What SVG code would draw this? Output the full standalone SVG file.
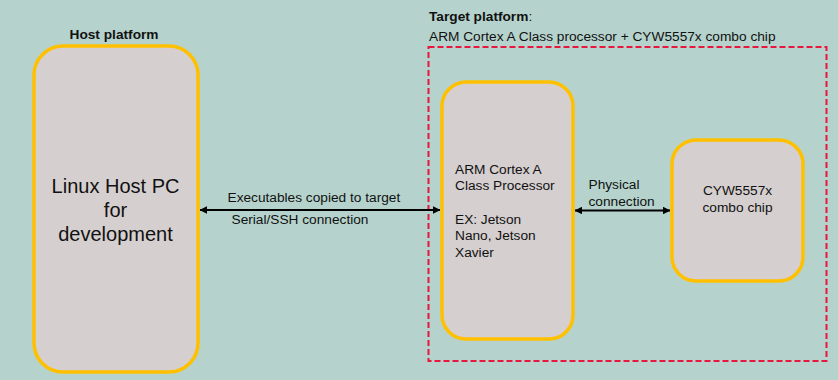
<svg xmlns="http://www.w3.org/2000/svg" width="838" height="380" viewBox="0 0 838 380">
  <style>
    text { font-family: "Liberation Sans", Arial, sans-serif; fill: #111; }
    .title { font-size: 13.7px; font-weight: bold; }
    .lbl { font-size: 13.7px; }
    .big { font-size: 20px; }
    .box { fill: #d5cfcf; stroke: #ffc000; stroke-width: 3.5; }
    .conn { stroke: #000; stroke-width: 1.8; fill: none; marker-start: url(#head); marker-end: url(#head); }
  </style>
  <defs>
    <marker id="head" viewBox="0 0 8 8" refX="7.5" refY="4" markerWidth="4.2" markerHeight="4.2" orient="auto-start-reverse" markerUnits="strokeWidth">
      <path d="M0,0 L8,4 L0,8 Z" fill="#000"/>
    </marker>
  </defs>

  <rect width="838" height="380" fill="#b5d3cc"/>

  <!-- Headings -->
  <text class="title" x="114" y="38.5" text-anchor="middle">Host platform</text>
  <text class="title" x="429" y="20.5">Target platform<tspan font-weight="normal">:</tspan></text>
  <text class="lbl" x="429" y="40.5">ARM Cortex A Class processor + CYW5557x combo chip</text>

  <!-- Target platform boundary -->
  <rect id="target-boundary" x="428.5" y="47" width="398" height="314" fill="none" stroke="#e8173e" stroke-width="2" stroke-dasharray="6,3"/>

  <!-- Host PC -->
  <g id="host-pc">
    <rect class="box" x="34" y="46" width="164" height="326" rx="29"/>
    <text class="big" text-anchor="middle" x="115.5" y="193">Linux Host PC</text>
    <text class="big" text-anchor="middle" x="115.5" y="217">for</text>
    <text class="big" text-anchor="middle" x="115.5" y="241">development</text>
  </g>

  <!-- ARM processor -->
  <g id="arm-processor">
    <rect class="box" x="442" y="82" width="131" height="257" rx="24"/>
    <text class="lbl" x="455" y="173.5">ARM Cortex A</text>
    <text class="lbl" x="455" y="190">Class Processor</text>
    <text class="lbl" x="455" y="223.5">EX: Jetson</text>
    <text class="lbl" x="455" y="240">Nano, Jetson</text>
    <text class="lbl" x="455" y="256.5">Xavier</text>
  </g>

  <!-- Combo chip -->
  <g id="combo-chip">
    <rect class="box" x="672" y="140" width="131" height="141" rx="24"/>
    <text class="lbl" text-anchor="middle" x="737.5" y="195">CYW5557x</text>
    <text class="lbl" text-anchor="middle" x="737.5" y="211.5">combo chip</text>
  </g>

  <!-- Connectors -->
  <g id="connectors">
    <line class="conn" x1="200" y1="210" x2="440" y2="210"/>
    <line class="conn" x1="575" y1="210.5" x2="670" y2="210.5"/>
    <text class="lbl" x="227.5" y="201.5">Executables copied to target</text>
    <text class="lbl" x="231.5" y="223.5">Serial/SSH connection</text>
    <text class="lbl" x="588.5" y="189">Physical</text>
    <text class="lbl" x="588.5" y="205.5">connection</text>
  </g>
</svg>
